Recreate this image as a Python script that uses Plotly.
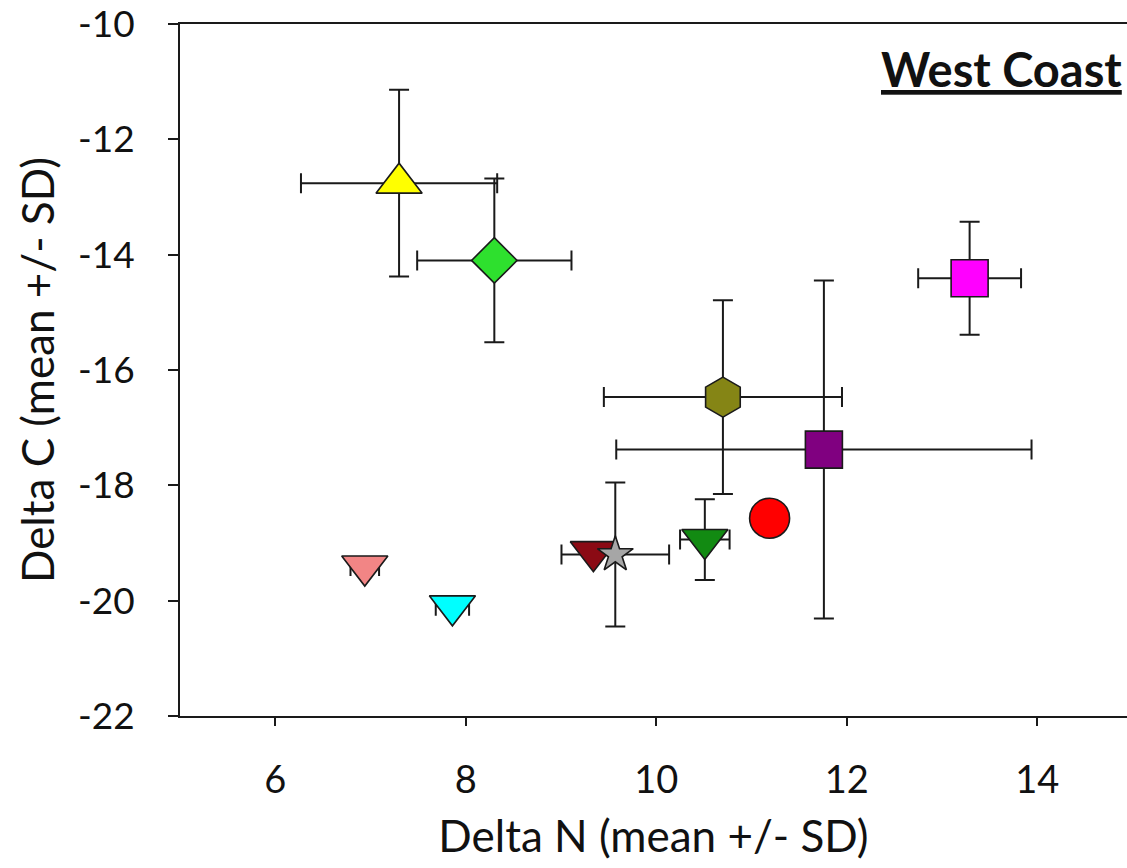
import plotly.graph_objects as go

# Data (delta N, delta C, SDs)
groups = ["Yellow", "Green", "Magenta", "Olive", "Purple", "Red",
          "Dark green", "Pink", "Cyan", "Dark red", "Gray"]
delta_n = [7.30, 8.30, 13.29, 10.70, 11.76, 11.19, 10.51, 6.94, 7.86, 9.34, 9.57]
delta_c = [-12.76, -14.10, -14.41, -16.47, -17.38, -18.57, -18.94, -19.40, -20.09, -19.15, -19.20]
sd_n = [1.03, 0.81, 0.54, 1.25, 2.18, 0.0, 0.26, 0.15, 0.175, 0.0, 0.565]
sd_c = [1.62, 1.42, 0.98, 1.68, 2.93, 0.0, 0.70, 0.0, 0.0, 0.0, 1.25]
symbols = ["triangle-up", "diamond", "square", "hexagon", "square", "circle",
           "triangle-down", "triangle-down", "triangle-down", "triangle-down", "star"]
colors = ["#FFFF00", "#2EE02E", "#FF00FF", "#858515", "#800080", "#FF0000",
          "#128A12", "#F28585", "#00FFFF", "#8B0A14", "#A6A6A6"]
sizes = [40, 35, 37, 40, 37, 40, 40, 40, 40, 40, 27]

x_ticks = [6, 8, 10, 12, 14]
y_ticks = [-10, -12, -14, -16, -18, -20, -22]
y_tick_text = ["-10", "-12", "-14", "-16", "-18", "-20", "-22"]

FONT = "Lato, 'Open Sans', sans-serif"
INK = "#1a1a1a"

fig = go.Figure()
# error bars first so that the markers sit on top of them
fig.add_trace(go.Scatter(
    x=delta_n, y=delta_c, mode="markers", hoverinfo="skip",
    marker=dict(size=1, opacity=0),
    error_x=dict(type="data", array=sd_n, visible=True, color=INK, thickness=2, width=10),
    error_y=dict(type="data", array=sd_c, visible=True, color=INK, thickness=2, width=10),
    showlegend=False,
))
fig.add_trace(go.Scatter(
    x=delta_n, y=delta_c, mode="markers", text=groups,
    marker=dict(symbol=symbols, color=colors, size=sizes, opacity=1,
                line=dict(color=INK, width=1.6)),
    showlegend=False,
))

fig.add_annotation(
    text="<b><u>West Coast</u></b>", xref="paper", yref="paper",
    x=(1124 - 180) / 947, y=(716 - 67) / 694, xanchor="right", yanchor="middle",
    showarrow=False, font=dict(family=FONT, size=47, color="#111"),
)

fig.update_layout(
    width=1127, height=868,
    margin=dict(l=180, r=0, t=22, b=152, pad=0),
    paper_bgcolor="white", plot_bgcolor="white",
    font=dict(family=FONT, color="#111"),
    xaxis=dict(
        range=[5, 5 + 947 / 95.25], tickvals=x_ticks, showgrid=False, zeroline=False,
        showline=True, linecolor=INK, linewidth=2, mirror=True,
        ticks="outside", ticklen=8, tickwidth=1.5, tickcolor=INK,
        tickfont=dict(family=FONT, size=38, color="#111"), ticklabelstandoff=21,
        ticklabeloverflow="allow",
        title=dict(text="Delta N (mean +/- SD)", font=dict(family=FONT, size=44, color="#111"), standoff=22),
    ),
    yaxis=dict(
        range=[-22, -10], tickvals=y_ticks, ticktext=y_tick_text,
        showgrid=False, zeroline=False,
        showline=True, linecolor=INK, linewidth=2,
        ticks="outside", ticklen=10, tickwidth=1.5, tickcolor=INK,
        tickfont=dict(family=FONT, size=37, color="#111"), ticklabelstandoff=26,
        ticklabeloverflow="allow",
        title=dict(text="Delta C (mean +/- SD)", font=dict(family=FONT, size=44, color="#111"), standoff=10),
    ),
)

fig.write_html(
    "out.html",
    config={"displayModeBar": False},
    post_script="document.body.style.margin='0';document.body.style.overflow='hidden';",
)
